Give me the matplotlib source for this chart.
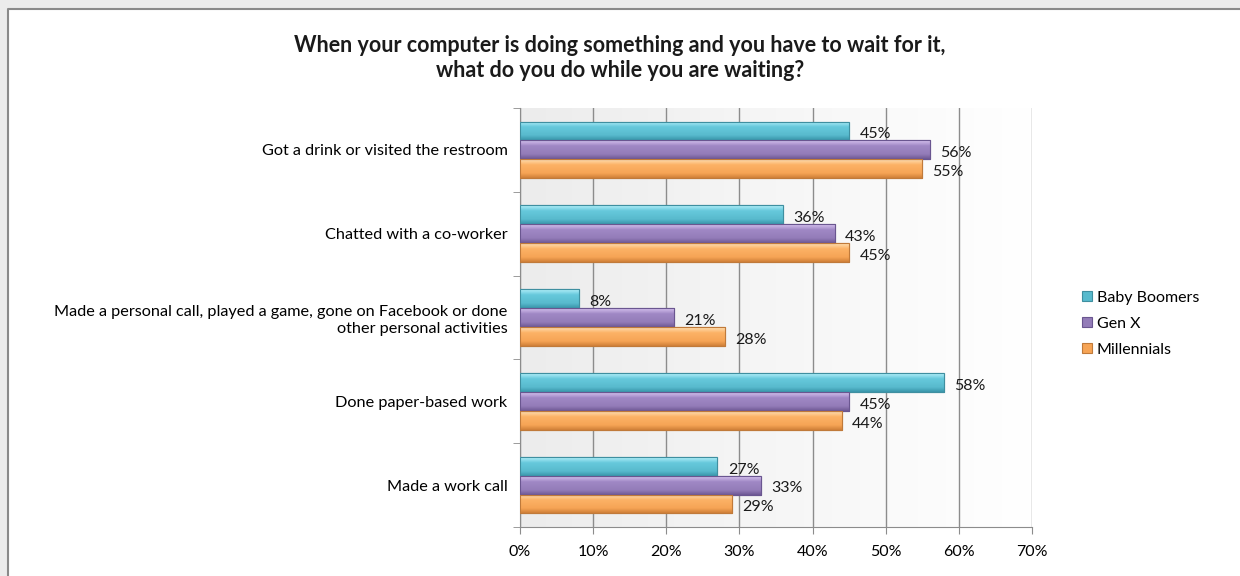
import numpy as np
import matplotlib.pyplot as plt
from matplotlib.colors import LinearSegmentedColormap
from matplotlib.patches import Rectangle
from matplotlib.lines import Line2D

plt.rcParams['font.family'] = ['Lato', 'DejaVu Sans']

categories = ['Got a drink or visited the restroom',
              'Chatted with a co-worker',
              'Made a personal call, played a game, gone on Facebook or done\nother personal activities',
              'Done paper-based work',
              'Made a work call']
series = ['Baby Boomers', 'Gen X', 'Millennials']
baby_boomers = [45, 36, 8, 58, 27]
gen_x = [56, 43, 21, 45, 33]
millennials = [55, 45, 28, 44, 29]
values = [baby_boomers, gen_x, millennials]
xticks = [0, 10, 20, 30, 40, 50, 60, 70]

# light top, body, darker bottom for each series
shades = [['#b4f0fa', '#66c9dc', '#58bacd', '#3a96ab'],
          ['#d6c2ef', '#a088c5', '#937cb8', '#6e5894'],
          ['#ffdfb2', '#fcb266', '#f6a455', '#cf8038']]
edges = ['#3f8fa0', '#6a5690', '#c07a3a']

fig = plt.figure(figsize=(12.4, 5.76), dpi=100)

# outer frame: grey shadow strip, white card, border on left and top
fig.patches.append(Rectangle((0, 0), 1, 1, transform=fig.transFigure,
                             facecolor='#ececec', edgecolor='none', zorder=-3))
fl, ft = 8 / 1240, 1 - 9 / 576
fig.patches.append(Rectangle((fl, 0), 1 - fl, ft, transform=fig.transFigure,
                             facecolor='white', edgecolor='none', zorder=-2))
fig.lines.append(Line2D([fl, fl, 1], [0, ft, ft], transform=fig.transFigure,
                        color='#8a8a8a', linewidth=1.5, zorder=-1))

ax = fig.add_axes([520 / 1240, 49 / 576, 512 / 1240, 419 / 576])
n = len(categories)
ax.set_xlim(0, 70)
ax.set_ylim(n - 0.5, -0.5)

# plot area background fading to white on the right
bg = LinearSegmentedColormap.from_list('bg', ['#ececec', '#f6f6f6', '#ffffff'])
ax.imshow(np.linspace(0, 1, 256).reshape(1, -1), cmap=bg, aspect='auto',
          extent=[0, 70, n - 0.5, -0.5], zorder=0)

h = 0.225
for i, (name, vals) in enumerate(zip(series, values)):
    y = np.arange(n) + (i - 1) * h
    bars = ax.barh(y, vals, height=h, color=shades[i][2], edgecolor=edges[i],
                   linewidth=0.8, zorder=3, label=name)
    cmap = LinearSegmentedColormap.from_list(
        name, [(0, shades[i][0]), (0.3, shades[i][1]), (0.75, shades[i][2]), (1, shades[i][3])])
    grad = np.linspace(0, 1, 64).reshape(-1, 1)
    for b, v, yy in zip(bars, vals, y):
        x0, y0, w, hh = b.get_x(), b.get_y(), b.get_width(), b.get_height()
        im = ax.imshow(grad, cmap=cmap, aspect='auto', zorder=3.5,
                       extent=[x0, x0 + w, y0 + hh, y0])
        im.set_clip_path(b)
        ax.add_patch(Rectangle((x0, y0), w, hh, facecolor='none',
                               edgecolor=edges[i], linewidth=0.8, zorder=4))
        ax.text(v + 1.4, yy + 0.04, f'{v}%', va='center', ha='left',
                fontsize=11.5, color='#1a1a1a', zorder=5)

ax.set_xticks(xticks)
ax.set_xticklabels([f'{t}%' for t in xticks], fontsize=11.5)
ax.xaxis.grid(True, color='#8c8c8c', linewidth=1.0, zorder=1)
ax.set_yticks(np.arange(n))
ax.set_yticklabels(categories, fontsize=11.7, linespacing=1.3)
ax.set_yticks(np.arange(n + 1) - 0.5, minor=True)
ax.tick_params(axis='y', which='major', length=0, pad=9)
ax.tick_params(axis='y', which='minor', length=5, color='#8c8c8c')
ax.tick_params(axis='x', length=5, color='#8c8c8c', pad=8)
for lbl in ax.get_yticklabels():
    lbl.set_horizontalalignment('right')
for s in ['top', 'right']:
    ax.spines[s].set_visible(False)
for s in ['left', 'bottom']:
    ax.spines[s].set_color('#8c8c8c')
ax.set_axisbelow(True)

leg = ax.legend(loc='center left', bbox_to_anchor=(1.07, 0.485), frameon=False,
                fontsize=11.5, handlelength=0.6, handleheight=0.6,
                handletextpad=0.3, labelspacing=0.75)

fig.text(620 / 1240, 1 - 58 / 576,
         'When your computer is doing something and you have to wait for it,\n'
         'what do you do while you are waiting?',
         ha='center', va='center', fontsize=15.5, fontweight='bold',
         linespacing=1.25, color='#1a1a1a')

fig.savefig('out.png', dpi=100)
